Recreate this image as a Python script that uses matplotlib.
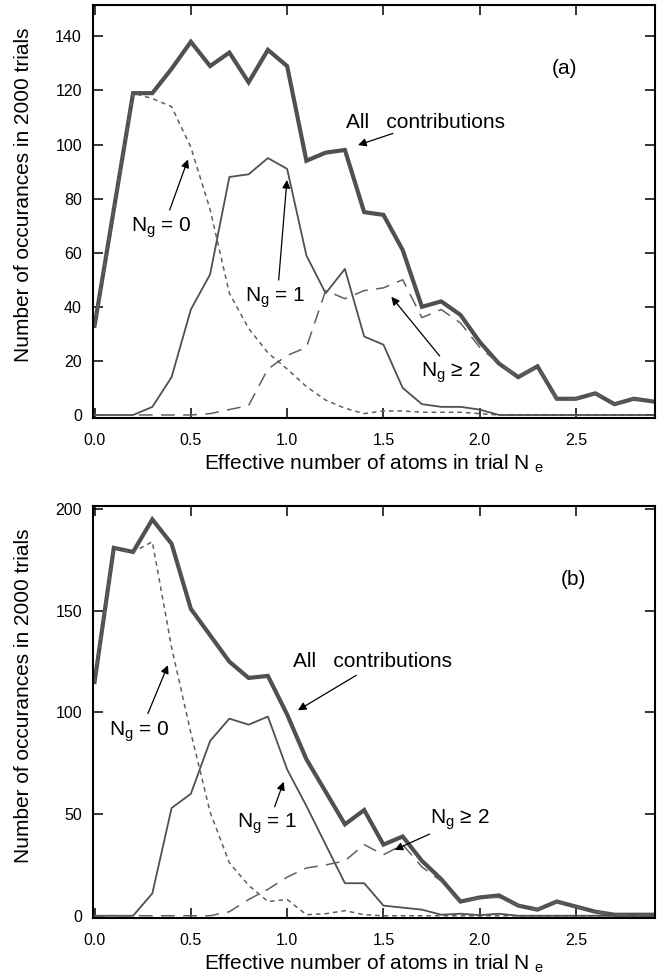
import matplotlib
matplotlib.use("Agg")
import matplotlib.pyplot as plt

plt.rcParams['font.family'] = ['Liberation Sans', 'DejaVu Sans']
plt.rcParams['mathtext.fontset'] = 'custom'
plt.rcParams['mathtext.rm'] = 'Liberation Sans'
plt.rcParams['mathtext.it'] = 'Liberation Sans:italic'

# ---- data ----
x_bins = [0.0, 0.1, 0.2, 0.3, 0.4, 0.5, 0.6, 0.7, 0.8, 0.9,
          1.0, 1.1, 1.2, 1.3, 1.4, 1.5, 1.6, 1.7, 1.8, 1.9,
          2.0, 2.1, 2.2, 2.3, 2.4, 2.5, 2.6, 2.7, 2.8, 2.9]

# panel (a)
all_a = [33, 76, 119, 119, 128, 138, 129, 134, 123, 135,
         129, 94, 97, 98, 75, 74, 61, 40, 42, 37,
         27, 19, 14, 18, 6, 6, 8, 4, 6, 5]
ng0_a = [33, 76, 119, 117, 114, 99, 76, 45, 32, 23,
         17, 10.5, 5.5, 2.5, 0.5, 1.5, 1.5, 1, 1, 1,
         0.5, 0, 0, 0, 0, 0, 0, 0, 0, 0]
ng1_a = [0, 0, 0, 3, 14, 39, 52, 88, 89, 95,
         91, 59, 45, 54, 29, 26, 10, 4, 3, 3,
         2, 0, 0, 0, 0, 0, 0, 0, 0, 0]
ng2_a = [0, 0, 0, 0, 0, 0, 0.5, 2, 3.5, 17,
         22, 25, 46, 43, 46, 47, 50, 36, 39, 34,
         25, 19, 14, 18, 6, 6, 8, 4, 6, 5]

# panel (b)
all_b = [115, 181, 179, 195, 183, 151, 138, 125, 117, 118,
         99, 77, 61, 45, 52, 35, 39, 27, 18, 7,
         9, 10, 5, 3, 7, 4.5, 2, 0.5, 0.5, 0.5]
ng0_b = [115, 181, 179, 184, 132, 90, 51, 26, 15, 7,
         8, 0.5, 1, 2.5, 0.5, 0, 0, 0, 0, 0,
         0, 0, 0, 0, 0, 0, 0, 0, 0, 0]
ng1_b = [0, 0, 0, 11, 53, 60, 86, 97, 94, 98,
         72, 54, 35, 16, 16, 5, 4, 3, 0.5, 1,
         0.3, 1, 0, 0, 0, 0, 0, 0, 0, 0]
ng2_b = [0, 0, 0, 0, 0, 0, 0, 2, 8, 13,
         19, 23.5, 25, 27, 35, 30, 35, 24, 17, 6,
         9, 9, 5, 3, 7, 4.5, 2, 0.5, 0.5, 0.5]

xticks = [0.0, 0.5, 1.0, 1.5, 2.0, 2.5]
xtick_labels = ["0.0", "0.5", "1.0", "1.5", "2.0", "2.5"]
yticks_a = [0, 20, 40, 60, 80, 100, 120, 140]
yticks_b = [0, 50, 100, 150, 200]

xlabel = r"Effective number of atoms in trial N $_\mathrm{e}$"
ylabel = "Number of occurances in 2000 trials"

LINE = '#505050'
FS = 15

fig = plt.figure(figsize=(6.63, 9.77), dpi=100)
ax_a = fig.add_axes([0.1403, 0.5722, 0.8476, 0.4227])
ax_b = fig.add_axes([0.1403, 0.0604, 0.8476, 0.4217])


def draw(ax, all_c, ng0, ng1, ng2):
    ax.plot(x_bins, all_c, color=LINE, lw=3.0, solid_joinstyle='miter', zorder=2)
    ax.plot(x_bins, ng0, color='#606060', lw=1.1, dashes=(3, 2.6), zorder=3)
    ax.plot(x_bins, ng1, color=LINE, lw=1.3, zorder=3)
    ax.plot(x_bins, ng2, color='#606060', lw=1.1, dashes=(9, 5.5), zorder=3)


def style(ax, ylim, yticks):
    ax.set_xlim(-0.008, 2.91)
    ax.set_ylim(*ylim)
    ax.set_xticks(xticks)
    ax.set_xticklabels(xtick_labels)
    ax.set_yticks(yticks)
    ax.set_yticklabels([str(v) for v in yticks])
    ax.tick_params(direction='in', length=7, width=1.1, top=True, right=True,
                   labelsize=11.5, colors='black')
    ax.tick_params(axis='x', pad=11)
    ax.tick_params(axis='y', pad=8)
    for s in ax.spines.values():
        s.set_linewidth(1.5)
    ax.set_xlabel(xlabel, fontsize=FS)
    ax.set_ylabel(ylabel, fontsize=FS)
    ax.xaxis.set_label_coords(0.5, -0.084)
    ax.yaxis.label.set(va='center', ha='center')
    ax.yaxis.set_label_coords(-0.123, 0.54)


def arrow(ax, tail, head):
    ax.annotate("", xy=head, xytext=tail,
                arrowprops=dict(arrowstyle='-|>', color='black', lw=0.9,
                                mutation_scale=12, shrinkA=0, shrinkB=0))


draw(ax_a, all_a, ng0_a, ng1_a, ng2_a)
style(ax_a, (-1.1, 151.6), yticks_a)
ax_a.text(2.44, 126, "(a)", fontsize=FS, ha='center', va='baseline')
ax_a.text(1.307, 106, "All   contributions", fontsize=FS, va='baseline')
arrow(ax_a, (1.549, 104.1), (1.368, 99.8))
ax_a.text(0.19, 67.7, r"N$_\mathrm{g}$ = 0", fontsize=FS, va='baseline')
arrow(ax_a, (0.39, 75.8), (0.485, 94.5))
ax_a.text(0.78, 41.9, r"N$_\mathrm{g}$ = 1", fontsize=FS, va='baseline')
arrow(ax_a, (0.956, 49.9), (0.999, 86.9))
ax_a.text(1.697, 14.2, r"N$_\mathrm{g}$ ≥ 2", fontsize=FS, va='baseline')
arrow(ax_a, (1.792, 21.8), (1.541, 43.7))

draw(ax_b, all_b, ng0_b, ng1_b, ng2_b)
style(ax_b, (-1.1, 201.6), yticks_b)
ax_b.text(2.488, 162.6, "(b)", fontsize=FS, ha='center', va='baseline')
ax_b.text(1.03, 122.4, "All   contributions", fontsize=FS, va='baseline')
arrow(ax_b, (1.359, 118.3), (1.056, 101.1))
ax_b.text(0.074, 88.8, r"N$_\mathrm{g}$ = 0", fontsize=FS, va='baseline')
arrow(ax_b, (0.277, 99.5), (0.381, 123.3))
ax_b.text(0.739, 43.5, r"N$_\mathrm{g}$ = 1", fontsize=FS, va='baseline')
arrow(ax_b, (0.935, 53.6), (0.982, 65.9))
ax_b.text(1.744, 45.1, r"N$_\mathrm{g}$ ≥ 2", fontsize=FS, va='baseline')
arrow(ax_b, (1.740, 40.2), (1.558, 32.4))

fig.savefig("out.png", dpi=100)
